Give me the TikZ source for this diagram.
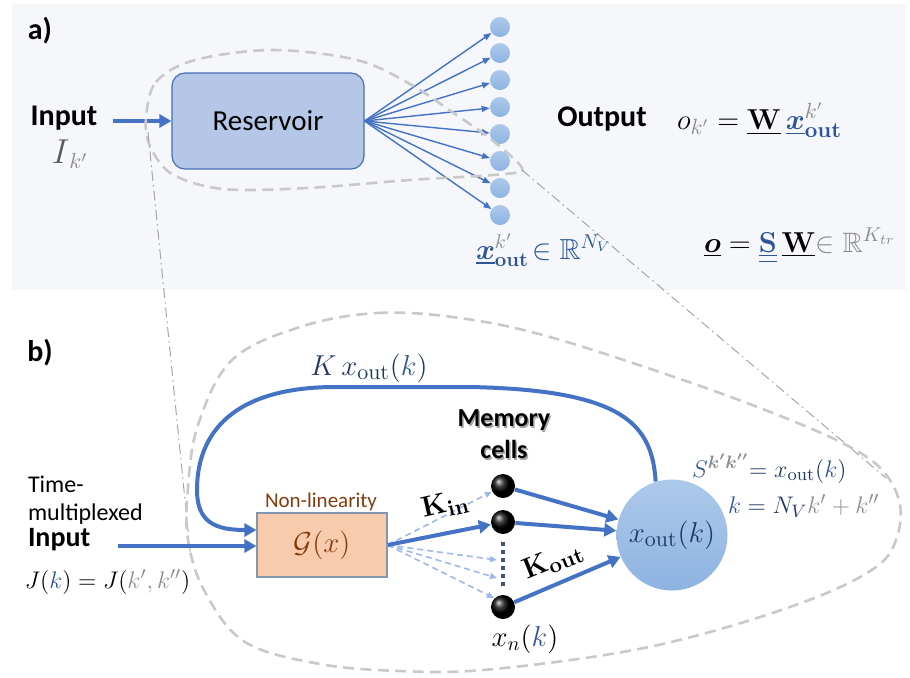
\documentclass[tikz,border=0pt]{standalone}
\usepackage[no-math]{fontspec}
\setmainfont{Carlito}
\usepackage{amsmath,amssymb,bm}
\usetikzlibrary{arrows.meta}
\definecolor{bgA}{HTML}{F5F7FB}
\definecolor{blueA}{HTML}{4472C4}
\definecolor{resFill}{HTML}{B4C7E7}
\definecolor{resDraw}{HTML}{4A6FB0}
\definecolor{cTop}{HTML}{ADC9EA}
\definecolor{cBot}{HTML}{8DB3E2}
\definecolor{navy}{HTML}{1F3864}
\definecolor{midB}{HTML}{2F5597}
\definecolor{grT}{HTML}{8C8C8C}
\definecolor{dgT}{HTML}{595959}
\definecolor{brownT}{HTML}{843C0C}
\definecolor{nlFill}{HTML}{F8CBAD}
\definecolor{nlDraw}{HTML}{8497B0}
\definecolor{lightB}{HTML}{9DB9E8}
\definecolor{loopG}{HTML}{C9C9C9}
\definecolor{ddG}{HTML}{A6A6A6}
\definecolor{dotB}{HTML}{44546A}
\newcommand\fsz[2]{\fontsize{#1}{#2}\selectfont}
\begin{document}
\begin{tikzpicture}[x=0.5pt,y=-0.5pt,
  bluearrow/.style={draw=blueA, line width=2pt, -{Triangle[length=6pt,width=6.5pt]}},
  fanarrow/.style={draw=blueA, line width=0.7pt, -{Triangle[length=4pt,width=3pt]}},
  lightarrow/.style={draw=lightB, line width=0.8pt, dash pattern=on 3pt off 2pt, -{Triangle[length=3.5pt,width=3pt]}},
  grayloop/.style={draw=loopG, line width=1.3pt, dash pattern=on 5.5pt off 3.2pt},
  dashdot/.style={draw=ddG, line width=0.5pt, dash pattern=on 5pt off 2pt on 0.8pt off 2pt},
  outc/.style={circle, minimum size=10pt, inner sep=0pt, top color=cTop, bottom color=cBot, draw=none},
  ballnode/.style={circle, minimum size=12pt, inner sep=0pt, shading=ball, ball color=black},
  lbl/.style={inner sep=0pt, outer sep=0pt},
]
\useasboundingbox (0,0) rectangle (910,677);
% panel a background
\fill[bgA] (12,4) rectangle (906,290);

% ---------- panel a ----------
\node[lbl, font=\fsz{15}{18}\bfseries] (la) at (40,31) {a)};
\node[lbl, font=\fsz{15}{18}\bfseries] (ina) at (64,118) {Input};
\node[lbl, font=\fsz{16}{18}] (ika) at (70,154) {$\textcolor{dgT}{I}_{\textcolor{grT}{k'}}$};
\coordinate (ina0) at (113,121);
\node[draw=resDraw, line width=0.6pt, fill=resFill, rounded corners=6.5pt,
      minimum width=96pt, minimum height=48pt, font=\fsz{14.5}{16}] (res) at (268,121) {Reservoir};
\draw[bluearrow] (ina0) -- (res.west);

\foreach \i/\yy in {1/27,2/53,3/80,4/107,5/134,6/161,7/188,8/215}{
  \node[outc] (c\i) at (500,\yy) {};
}
\foreach \i in {1,...,8}{
  \draw[fanarrow] (res.east) -- (c\i);
}

% dashed loop a
\draw[grayloop] plot[smooth cycle, tension=0.55] coordinates {
 (146,118) (156,82) (195,60) (273,50) (357,60) (410,84) (455,114) (492,140) (522,168)
 (505,174) (410,180) (307,188) (223,189) (172,174) (150,146)};

% dash-dot zoom lines
\draw[dashdot] (148,132) -- (191,560);
\draw[dashdot] (522,170) -- (886,478);

\node[lbl, font=\fsz{15}{18}\bfseries] (outl) at (602,119) {Output};
\node[lbl, font=\fsz{15}{18}, anchor=base west] (of) at (677,129)
 {$o_{\textcolor{grT}{k'}}=\underline{\mathbf{W}}\,\textcolor{midB}{\underline{\bm{x}}^{\textcolor{grT}{k'}}_{\mathbf{out}}}$};
\node[lbl, font=\fsz{14.5}{18}, anchor=base west] (xr) at (476,259)
 {$\textcolor{midB}{\underline{\bm{x}}^{\textcolor{grT}{k'}}_{\mathbf{out}}\!\in\mathbb{R}^{N_V}}$};
\node[lbl, font=\fsz{14}{18}, anchor=base west] (osw) at (704,252)
 {$\underline{\bm{o}}=\textcolor{midB}{\underline{\underline{\mathbf{S}}}}\,\underline{\mathbf{W}}\textcolor{grT}{\in\mathbb{R}^{K_{tr}}}$};

% ---------- panel b ----------
\node[lbl, font=\fsz{15}{18}\bfseries] (lb) at (40,353) {b)};

% big dashed loop b
\draw[grayloop] plot[smooth cycle, tension=0.6] coordinates {
 (300,327) (377,313) (460,318) (550,337) (683,380) (783,417) (850,447) (884,472) (900,505)
 (896,540) (876,567) (817,597) (717,630) (617,653) (483,670) (400,671) (320,664)
 (245,642) (205,592) (188,540) (188,488) (198,425) (232,360)};

\node[lbl, font=\fsz{12}{14}, anchor=west, align=left] (tm) at (28,500) {Time-\\multiplexed};
\node[lbl, font=\fsz{14}{16}\bfseries, anchor=west] (inb) at (28,540) {Input};
\node[lbl, font=\fsz{12.5}{16}, anchor=west] (jk) at (25,582)
 {$J(\textcolor{midB}{k})=J(\textcolor{grT}{k',k''})$};

\node[draw=nlDraw, line width=0.6pt, fill=nlFill, minimum width=65pt, minimum height=32pt,
      inner sep=0pt, font=\fsz{15}{17}, text=brownT] (nl) at (322,545) {$\mathcal{G}(x)$};
\node[lbl, font=\fsz{10.5}{12}, text=brownT] (nll) at (321,502) {Non-linearity};

\coordinate (inb0) at (118,546);
\draw[bluearrow] (inb0) -- ([yshift=-0.5pt]nl.west);

% memory cells
\node[ballnode] (m1) at (503,486) {};
\node[ballnode] (m2) at (503,522) {};
\node[ballnode] (m3) at (503,607) {};
\node[lbl, font=\fsz{13}{16}\bfseries, align=center, text=black!35] at (505.5,436.5) {Memory\\cells};
\node[lbl, font=\fsz{13}{16}\bfseries, align=center] (mc) at (504,434) {Memory\\cells};
\draw[dotB, line width=1.6pt, dash pattern=on 2pt off 2pt, shorten <=4pt, shorten >=4pt] (m2) -- (m3);

\node[circle, minimum size=55.5pt, inner sep=0pt, top color=cTop, bottom color=cBot, draw=none,
      font=\fsz{15}{17}, text=navy] (xo) at (672,535) {$x_{\mathrm{out}}(k)$};

% feedback
\draw[bluearrow] (xo.107) .. controls (652,425) and (625,390) .. (470,387) -- (330,387)
  .. controls (225,389) and (197,440) .. (197,490) .. controls (197,522) and (215,530) .. ([yshift=7.5pt]nl.west);
\node[lbl, font=\fsz{15}{17}, text=navy] (kx) at (369,368) {$K\,x_{\mathrm{out}}(\textcolor{midB}{k})$};

% nonlinearity -> cells
\coordinate (d1) at (497,560);
\coordinate (d2) at (497,578);
\coordinate (d3) at (494,598);
\draw[lightarrow] (nl.east) -- (m1);
\draw[lightarrow] (nl.east) -- (d1);
\draw[lightarrow] (nl.east) -- (d2);
\draw[lightarrow] (nl.east) -- (d3);
\draw[bluearrow] (nl.east) -- (m2);
\node[lbl, font=\fsz{15}{17}, rotate=13] (kin) at (445,505) {$\mathbf{K}_{\mathbf{in}}$};

% cells -> output
\draw[bluearrow] (m1) -- (xo);
\draw[bluearrow] (m2) -- (xo);
\draw[bluearrow] (m3) -- (xo);
\node[lbl, font=\fsz{15}{17}, rotate=22] (kout) at (553,561) {$\mathbf{K}_{\mathbf{out}}$};

\node[lbl, font=\fsz{14}{16}] (xn) at (525,639) {$x_n(\textcolor{midB}{k})$};

\node[lbl, font=\fsz{13}{15}, anchor=base west] (seq) at (692,477)
 {$\textcolor{midB}{S}^{\textcolor{grT}{\bm{k'k''}}}\textcolor{navy}{=x_{\mathrm{out}}(}\textcolor{midB}{k}\textcolor{navy}{)}$};
\node[lbl, font=\fsz{13}{15}, anchor=base west] (keq) at (728,513)
 {$\textcolor{midB}{k}\textcolor{navy}{\;=N_V}\textcolor{grT}{k'+k''}$};
\end{tikzpicture}
\end{document}
